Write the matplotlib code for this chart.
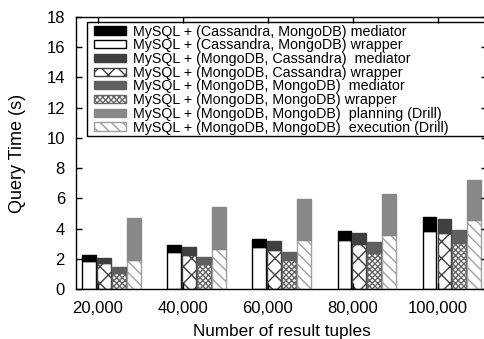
import matplotlib
matplotlib.use("Agg")
import matplotlib.pyplot as plt
from matplotlib.patches import Patch, Rectangle
import numpy as np

plt.rcParams['font.family'] = ['Liberation Sans', 'DejaVu Sans']
plt.rcParams['hatch.linewidth'] = 1.0

groups = ['20,000', '40,000', '60,000', '80,000', '100,000']

# (Cassandra, MongoDB)
cm_wrapper = [1.87, 2.43, 2.78, 3.22, 3.84]
cm_mediator = [0.36, 0.46, 0.51, 0.60, 0.91]
# (MongoDB, Cassandra)
mc_wrapper = [1.74, 2.27, 2.58, 2.98, 3.71]
mc_mediator = [0.33, 0.49, 0.62, 0.71, 0.91]
# (MongoDB, MongoDB)
mm_wrapper = [1.08, 1.63, 1.90, 2.38, 3.07]
mm_mediator = [0.36, 0.47, 0.55, 0.71, 0.84]
# Drill
drill_execution = [1.92, 2.67, 3.22, 3.60, 4.55]
drill_planning = [2.78, 2.73, 2.76, 2.71, 2.67]

x = np.arange(len(groups))
w = 0.16
offs = [-0.10, 0.075, 0.25, 0.425]

fig = plt.figure(figsize=(4.84, 3.39), dpi=100)
ax = fig.add_axes([0.157, 0.1475, 0.85, 0.8025])

# bottom segments (wrapper / execution)
ax.bar(x + offs[0], cm_wrapper, w, color='white', edgecolor='black', lw=1)
ax.bar(x + offs[1], mc_wrapper, w, color='white', edgecolor='#404040', hatch='xx', lw=1)
ax.bar(x + offs[2], mm_wrapper, w, color='white', edgecolor='#666666', hatch='xxxxxx', lw=1)
ax.bar(x + offs[3], drill_execution, w, color='white', edgecolor='#a0a0a0', hatch='\\\\\\', lw=1)
# top segments (mediator / planning)
ax.bar(x + offs[0], cm_mediator, w, bottom=cm_wrapper, color='black', edgecolor='black', lw=1)
ax.bar(x + offs[1], mc_mediator, w, bottom=mc_wrapper, color='#404040', edgecolor='#404040', lw=1)
ax.bar(x + offs[2], mm_mediator, w, bottom=mm_wrapper, color='#606060', edgecolor='#606060', lw=1)
ax.bar(x + offs[3], drill_planning, w, bottom=drill_execution, color='#888888', edgecolor='#888888', lw=1)

ax.set_xlim(-0.253, 4.58)
ax.set_ylim(0, 18)
ax.set_yticks(range(0, 19, 2))
ax.set_xticks(x)
ax.set_xticklabels(groups)
ax.tick_params(direction='in', top=True, right=True, length=4, width=1,
               labelsize=12, colors='black')
ax.tick_params(axis='y', pad=8)
ax.tick_params(axis='x', pad=9)
for s in ax.spines.values():
    s.set_linewidth(1)
ax.set_ylabel('Query Time (s)', fontsize=13)
ax.set_xlabel('Number of result tuples', fontsize=12.3)
ax.yaxis.set_label_coords(-0.122, 0.5)
ax.xaxis.set_label_coords(0.5, -0.13)

handles = [
    Patch(facecolor='black', edgecolor='black'),
    Patch(facecolor='white', edgecolor='black'),
    Patch(facecolor='#404040', edgecolor='#404040'),
    Patch(facecolor='white', edgecolor='#404040', hatch='xx'),
    Patch(facecolor='#606060', edgecolor='#606060'),
    Patch(facecolor='white', edgecolor='#666666', hatch='xxxxxx'),
    Patch(facecolor='#888888', edgecolor='#888888'),
    Patch(facecolor='white', edgecolor='#a0a0a0', hatch='\\\\\\'),
]
labels = [
    'MySQL + (Cassandra, MongoDB) mediator',
    'MySQL + (Cassandra, MongoDB) wrapper',
    'MySQL + (MongoDB, Cassandra)  mediator',
    'MySQL + (MongoDB, Cassandra) wrapper',
    'MySQL + (MongoDB, MongoDB)  mediator',
    'MySQL + (MongoDB, MongoDB) wrapper',
    'MySQL + (MongoDB, MongoDB)  planning (Drill)',
    'MySQL + (MongoDB, MongoDB)  execution (Drill)',
]
leg = ax.legend(handles, labels, loc='upper left', bbox_to_anchor=(0.044, 0.972),
                fontsize=10.3, frameon=False,
                handlelength=2.2, handleheight=0.5, handletextpad=0.5,
                labelspacing=-0.02, borderpad=0, borderaxespad=0)
# legend frame: runs off the right edge like the original
ax.add_patch(Rectangle((0.027, 0.564), 1.2, 0.418, transform=ax.transAxes,
                       facecolor='none', edgecolor='black', lw=1, zorder=4,
                       clip_on=False))

fig.savefig('out.png', dpi=100)
